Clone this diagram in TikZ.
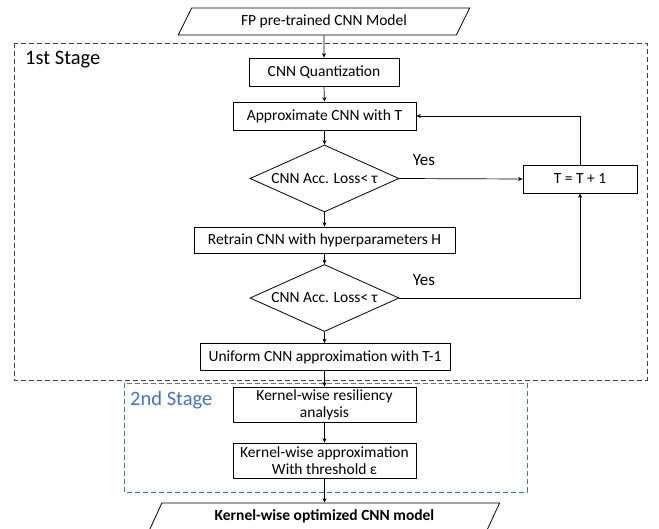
\documentclass[tikz,border=0pt]{standalone}
\usepackage{fontspec}
\setmainfont{Carlito}
\usetikzlibrary{shapes.geometric,arrows.meta}
\definecolor{stageblue}{HTML}{4472C4}
\definecolor{stagegray}{HTML}{404040}
\tikzset{
  every node/.style={font=\fontsize{15.5}{17}\selectfont, inner sep=1pt},
  procbox/.style={draw, line width=0.8pt, rectangle, align=center},
  decision/.style={draw, line width=0.8pt, diamond, aspect=2.224, inner sep=0pt, minimum width=149pt, minimum height=67pt},
  iobox/.style={draw, line width=0.8pt, trapezium, trapezium left angle=61, trapezium right angle=119, trapezium stretches=true, minimum height=27pt},
  flow/.style={line width=0.7pt, -{Stealth[length=4.5pt,width=4pt]}},
  stagelabel/.style={font=\fontsize{20.5}{23}\selectfont, anchor=west},
  yeslabel/.style={font=\fontsize{17}{19}\selectfont}
}
\begin{document}
\begin{tikzpicture}[x=1pt,y=-1pt]
\useasboundingbox (0,0) rectangle (659,529);
\clip (0,0) rectangle (659,529);

% stage frames
\draw[stagegray, line width=0.8pt, dash pattern=on 5pt off 3pt] (14,43) rectangle (647,380);
\node[stagelabel] (s1) at (24,60) {1st Stage};
\draw[stageblue, line width=0.8pt, dash pattern=on 5pt off 3pt] (124,383) rectangle (527,492);
\node[stagelabel, text=stageblue] (s2) at (129,400) {2nd Stage};

% input and output models
\node[iobox, minimum width=292pt] (fp) at (324,21.5) {FP pre-trained CNN Model};
\node[iobox, minimum width=351pt, font=\fontsize{15.5}{17}\selectfont\bfseries] (out) at (324.5,516.5) {Kernel-wise optimized CNN model};

% first stage
\node[procbox, minimum width=150pt, minimum height=28pt] (quant) at (324,72) {CNN Quantization};
\node[procbox, minimum width=183pt, minimum height=28pt] (approx) at (324.5,116) {Approximate CNN with T};
\node[decision] (d1) at (324.5,178.5) {CNN Acc. Loss< τ};
\node[procbox, minimum width=114pt, minimum height=28pt] (inc) at (580,179) {T = T + 1};
\node[procbox, minimum width=261pt, minimum height=26pt] (retrain) at (324.5,240) {Retrain CNN with hyperparameters H};
\node[decision] (d2) at (324.5,298) {CNN Acc. Loss< τ};
\node[procbox, minimum width=250pt, minimum height=27pt] (uniform) at (325,357) {Uniform CNN approximation with T-1};
\node[yeslabel] (y1) at (424,160) {Yes};
\node[yeslabel] (y2) at (424,280) {Yes};

% second stage
\node[procbox, minimum width=183pt, minimum height=35pt] (resil) at (324.5,404.5) {Kernel-wise resiliency\\analysis};
\node[procbox, minimum width=183pt, minimum height=35pt] (kapprox) at (324.5,460.5) {Kernel-wise approximation\\With threshold ε};

% connectors
\draw[flow] (fp.south) -- (quant.north);
\draw[flow] (quant.south) -- (approx.north);
\draw[flow] (approx.south) -- (d1.north);
\draw[flow] (d1.south) -- (retrain.north);
\draw[flow] (d1.east) -- (inc.west);
\draw[flow] (retrain.south) -- (d2.north);
\draw[flow] (d2.south) -- (uniform.north -| d2.south);
\draw[flow] (d2.east) -| (inc.south);
\draw[flow] (inc.north) |- (approx.east);
\draw[flow] (uniform.south -| resil.north) -- (resil.north);
\draw[flow] (resil.south) -- (kapprox.north);
\draw[flow] (kapprox.south) -- (out.north);
\end{tikzpicture}
\end{document}
